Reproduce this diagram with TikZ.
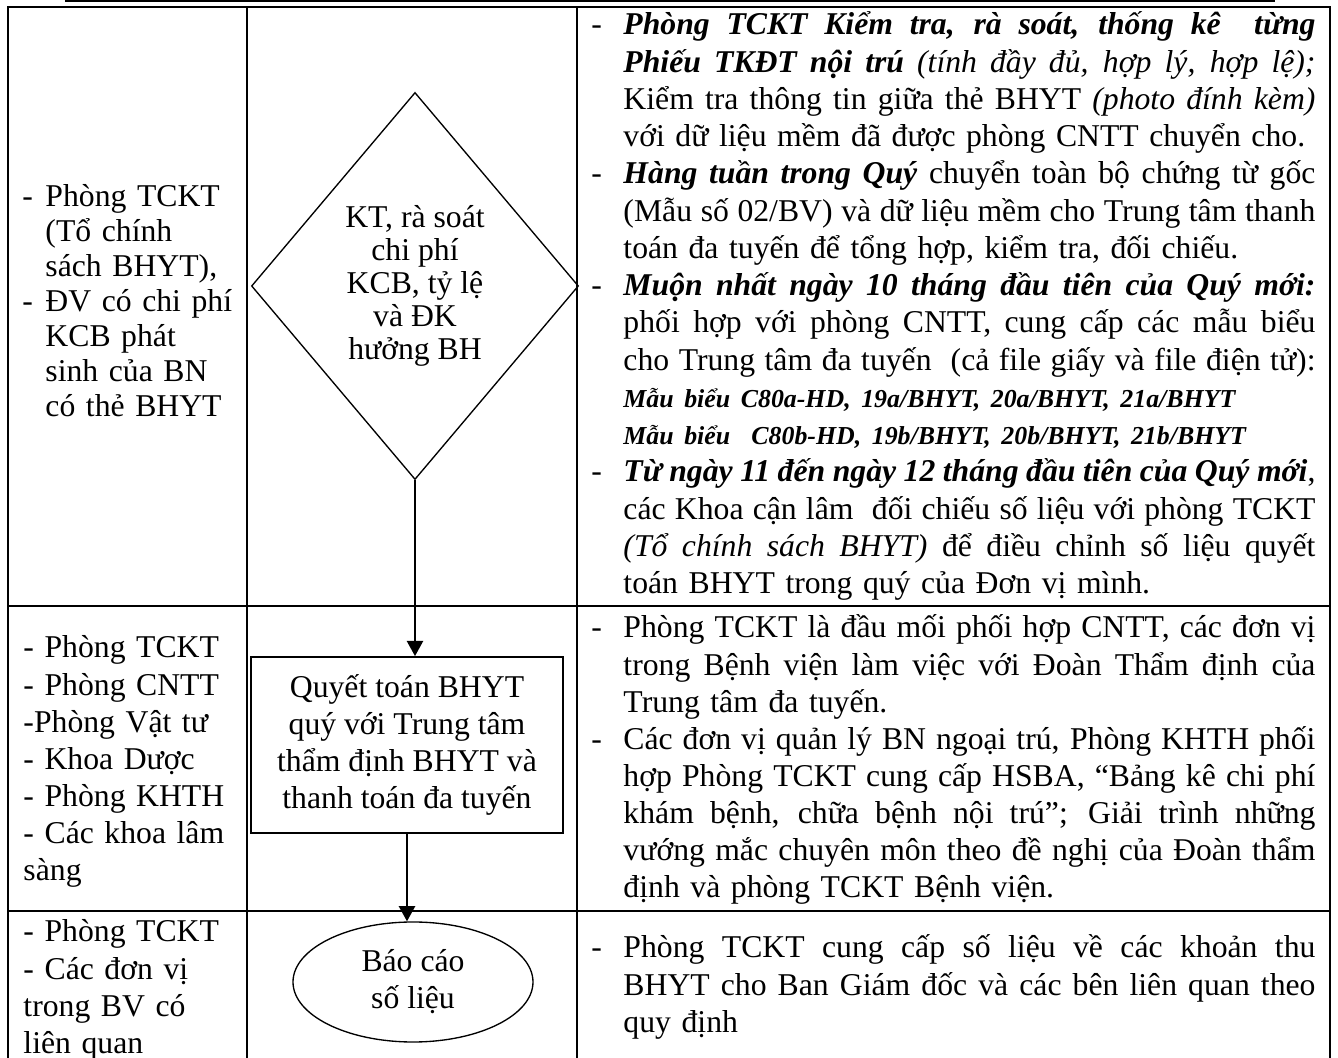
\documentclass[tikz,border=0pt]{standalone}
\usepackage{fontspec}
\setmainfont{Liberation Serif}
\usetikzlibrary{shapes.geometric,arrows.meta}

\newlength{\pxu}
\setlength{\pxu}{0.41pt}
\newcommand{\ldash}{\makebox[23\pxu][l]{-}}
\newcommand{\lgap}{\hspace*{23\pxu}}
\newcommand{\rdash}{\makebox[32\pxu][l]{-}}
\newcommand{\rgap}{\hspace*{32\pxu}}
\newcommand{\rfull}[1]{{\spaceskip=0pt\xspaceskip=0pt\makebox[692\pxu][s]{#1}}}
\newcommand{\bfit}[1]{\textbf{\textit{#1}}}
\newcommand{\formno}[1]{{\fontsize{10.6}{15.3}\selectfont\bfit{#1}}}

\begin{document}
\begin{tikzpicture}[x=0.41pt,y=-0.41pt,font=\fontsize{13}{15.2}\selectfont,
  grid/.style={line width=0.82pt},
  cell/.style={anchor=base west,inner sep=0pt,align=left},
  flow/.style={line width=0.82pt,-{Triangle[length=6.2pt,width=6.6pt]}}]
  \useasboundingbox (0,0) rectangle (1338,1058);

  % Rule above the table
  \draw[line width=0.45pt] (65,1) -- (1275,1);

  % Table grid
  \draw[grid] (8,1058) -- (8,7) -- (1330,7) -- (1330,1058);
  \foreach \x in {247,577} {
    \draw[grid] (\x,7) -- (\x,1058);
  }
  \foreach \y in {606,911} {
    \draw[grid] (8,\y) -- (1330,\y);
  }

  % Left column: who is in charge
  \node[cell,text width=86.1pt,font=\fontsize{13}{14.35}\selectfont] (who1) at (22,207)
  {\ldash Phòng TCKT\\\lgap(Tổ chính\\\lgap sách BHYT),\\\ldash ĐV có chi phí\\\lgap KCB phát\\\lgap sinh của BN\\\lgap có thẻ BHYT};
  \node[cell,text width=86.1pt] (who2) at (23,658)
  {- Phòng TCKT\\- Phòng CNTT\\-Phòng Vật tư\\- Khoa Dược\\- Phòng KHTH\\- Các khoa lâm\\sàng};
  \node[cell,text width=86.1pt] (who3) at (23,942)
  {- Phòng TCKT\\- Các đơn vị\\trong BV có\\liên quan};

  % Middle column: flow chart
  \node[draw,diamond,line width=0.55pt,minimum width=134.1pt,minimum height=158.7pt,inner sep=0pt,align=center,
    font=\fontsize{13}{13.53}\selectfont] (check) at (415,286)
  {KT, rà soát\\chi phí\\KCB, tỷ lệ\\và ĐK\\hưởng BH};
  \node[draw,rectangle,line width=0.7pt,minimum width=127.9pt,minimum height=72.2pt,inner sep=0pt,align=center] (settle) at (407,745)
  {Quyết toán BHYT\\quý với Trung tâm\\thẩm định BHYT và\\thanh toán đa tuyến};
  \node[draw,ellipse,line width=0.55pt,minimum width=98.4pt,minimum height=49.2pt,inner sep=0pt,align=center] (report) at (413,982)
  {Báo cáo\\số liệu};
  \draw[flow] (check.south) -- (check.south |- settle.north);
  \draw[flow] (settle.south) -- (settle.south |- report.north);

  % Right column: what is done
  \node[cell,text width=297.7pt,font=\fontsize{13}{15.27}\selectfont] (task1) at (591,35)
  {\rdash\rfull{\bfit{Phòng TCKT Kiểm tra, rà soát, thống kê \ từng}}\\
   \rgap\rfull{\bfit{Phiếu TKĐT nội trú} \textit{(tính đầy đủ, hợp lý, hợp lệ);}}\\
   \rgap\rfull{Kiểm tra thông tin giữa thẻ BHYT \textit{(photo đính kèm)}}\\
   \rgap với dữ liệu mềm đã được phòng CNTT chuyển cho.\\
   \rdash\rfull{\bfit{Hàng tuần trong Quý} chuyển toàn bộ chứng từ gốc}\\
   \rgap\rfull{(Mẫu số 02/BV) và dữ liệu mềm cho Trung tâm thanh}\\
   \rgap toán đa tuyến để tổng hợp, kiểm tra, đối chiếu.\\
   \rdash\rfull{\bfit{Muộn nhất ngày 10 tháng đầu tiên của Quý mới:}}\\
   \rgap\rfull{phối hợp với phòng CNTT, cung cấp các mẫu biểu}\\
   \rgap\rfull{cho Trung tâm đa tuyến \ (cả file giấy và file điện tử):}\\
   \rgap\formno{Mẫu biểu C80a-HD, 19a/BHYT, 20a/BHYT, 21a/BHYT}\\
   \rgap\formno{Mẫu biểu \ C80b-HD, 19b/BHYT, 20b/BHYT, 21b/BHYT}\\
   \rdash\rfull{\bfit{Từ ngày 11 đến ngày 12 tháng đầu tiên của Quý mới},}\\
   \rgap\rfull{các Khoa cận lâm \ đối chiếu số liệu với phòng TCKT}\\
   \rgap\rfull{\textit{(Tổ chính sách BHYT)} để điều chỉnh số liệu quyết}\\
   \rgap toán BHYT trong quý của Đơn vị mình.};
  \node[cell,text width=297.7pt] (task2) at (591,638)
  {\rdash\rfull{Phòng TCKT là đầu mối phối hợp CNTT, các đơn vị}\\
   \rgap\rfull{trong Bệnh viện làm việc với Đoàn Thẩm định của}\\
   \rgap Trung tâm đa tuyến.\\
   \rdash\rfull{Các đơn vị quản lý BN ngoại trú, Phòng KHTH phối}\\
   \rgap\rfull{hợp Phòng TCKT cung cấp HSBA, “Bảng kê chi phí}\\
   \rgap\rfull{khám bệnh, chữa bệnh nội trú”; Giải trình những}\\
   \rgap\rfull{vướng mắc chuyên môn theo đề nghị của Đoàn thẩm}\\
   \rgap định và phòng TCKT Bệnh viện.};
  \node[cell,text width=297.7pt] (task3) at (591,958)
  {\rdash\rfull{Phòng TCKT cung cấp số liệu về các khoản thu}\\
   \rgap\rfull{BHYT cho Ban Giám đốc và các bên liên quan theo}\\
   \rgap quy định};
\end{tikzpicture}
\end{document}
